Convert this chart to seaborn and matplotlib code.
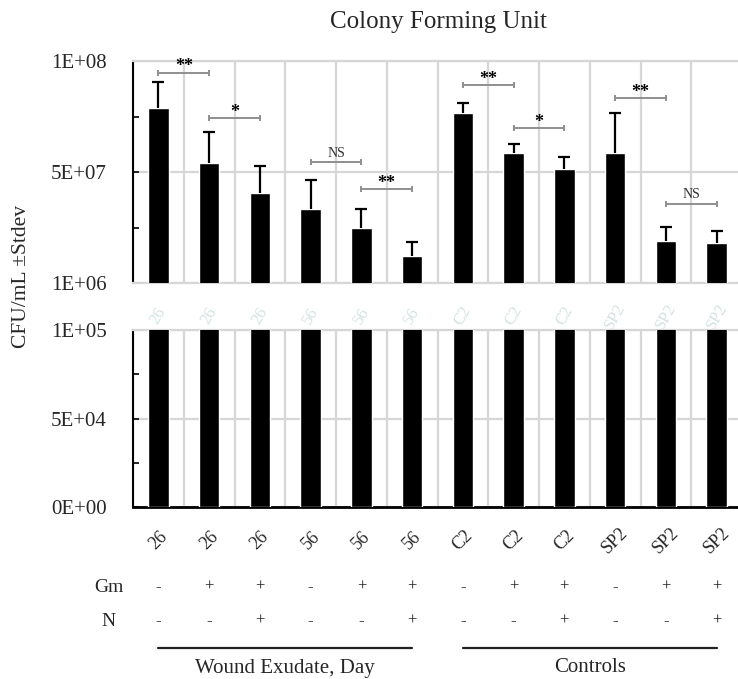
import numpy as np
import pandas as pd
import matplotlib
matplotlib.use("Agg")
import matplotlib.pyplot as plt
import seaborn as sns
from matplotlib.transforms import blended_transform_factory as btf

# ---- data ----
groups = ["26", "26", "26", "56", "56", "56", "C2", "C2", "C2", "SP2", "SP2", "SP2"]
gm_signs = ["-", "+", "+", "-", "+", "+", "-", "+", "+", "-", "+", "+"]
n_signs = ["-", "-", "+", "-", "-", "+", "-", "-", "+", "-", "-", "+"]
cfu_mean = [79.2e6, 54.4e6, 41.3e6, 34.1e6, 25.4e6, 13.2e6,
            76.7e6, 59.1e6, 51.8e6, 59.1e6, 19.7e6, 19.0e6]
cfu_sd = [11.6e6, 14.1e6, 11.9e6, 12.8e6, 8.5e6, 6.2e6,
          4.7e6, 3.8e6, 5.4e6, 17.6e6, 6.3e6, 5.2e6]
sig_pairs = [(0, 1), (1, 2), (3, 4), (4, 5), (6, 7), (7, 8), (9, 10), (10, 11)]
sig_labels = ["**", "*", "NS", "**", "**", "*", "**", "NS"]
sig_levels = [94.8e6, 74.7e6, 54.8e6, 42.8e6, 89.4e6, 70.0e6, 83.6e6, 36.2e6]
top_ticks = [1e6, 5.05e7, 1e8]
top_ticklabels = ["1E+06", "5E+07", "1E+08"]
bot_ticks = [0, 5e4, 1e5]
bot_ticklabels = ["0E+00", "5E+04", "1E+05"]
group_names = ["Wound Exudate, Day", "Controls"]
group_spans = [(0, 5), (6, 11)]

sns.set_style("white")
plt.rcParams["font.family"] = ["Liberation Serif", "DejaVu Serif"]

W, H = 738, 679
fig = plt.figure(figsize=(W / 100, H / 100), dpi=100)

def fx(px):
    return px / W

def fy(py):
    return 1 - py / H

ax_top = fig.add_axes([fx(133), fy(283), fx(742) - fx(133), fy(61) - fy(283)])
ax_bot = fig.add_axes([fx(133), fy(507), fx(742) - fx(133), fy(330) - fy(507)])

df = pd.DataFrame({"cond": [f"c{i}" for i in range(len(groups))],
                   "cfu": cfu_mean})
order = list(df["cond"])
grid_c = "#d6d6d6"

for ax in (ax_top, ax_bot):
    sns.barplot(data=df, x="cond", y="cfu", order=order, color="black",
                saturation=1, width=0.4, errorbar=None, ax=ax, zorder=3)
    ax.set_xlim(-0.5, len(groups) - 0.5)
    ax.set_xlabel("")
    ax.set_ylabel("")
    ax.set_xticks(np.arange(-0.5, len(groups)), minor=True)
    ax.grid(axis="x", which="minor", color=grid_c, lw=1.6, zorder=0)
    ax.grid(axis="y", which="major", color=grid_c, lw=1.6, zorder=0)
    ax.tick_params(axis="x", which="minor", direction="in", length=3,
                   width=1.2, color="black")
    ax.tick_params(axis="y", which="both", direction="in", length=4,
                   width=1.2, color="black", left=True, labelsize=15, pad=19)
    ax.spines["left"].set_color("black")
    ax.spines["left"].set_linewidth(1.5)
    ax.spines["right"].set_visible(False)
    ax.spines["top"].set_color(grid_c)
    ax.spines["top"].set_linewidth(1.6)
    ax.set_axisbelow(True)

# top panel
ax_top.set_ylim(1e6, 1e8)
ax_top.set_yticks(top_ticks)
ax_top.set_yticklabels(top_ticklabels)
ax_top.set_yticks([(top_ticks[0] + top_ticks[1]) / 2, (top_ticks[1] + top_ticks[2]) / 2], minor=True)
ax_top.set_xticks(range(len(groups)))
ax_top.tick_params(axis="x", which="major", length=0, labelbottom=False)
ax_top.spines["bottom"].set_color(grid_c)
ax_top.spines["bottom"].set_linewidth(1.6)
x = np.arange(len(groups))
eb = ax_top.errorbar(x, cfu_mean, yerr=[np.zeros(len(groups)), cfu_sd], fmt="none",
                     ecolor="black", elinewidth=1.6, capsize=4.5, capthick=1.6, zorder=4)
# hide the lower caps (they sit on the bar tops)
caps = eb[1]
if len(caps) >= 2:
    caps[0].set_visible(False)

for (a, b), lab, lev in zip(sig_pairs, sig_labels, sig_levels):
    ax_top.plot([a, b], [lev, lev], color="#8f8f8f", lw=1.4, marker="|",
                markersize=5, mew=1.4, zorder=5)
    if lab == "NS":
        ax_top.annotate(lab, xy=((a + b) / 2, lev), xytext=(0, 2),
                        textcoords="offset points", ha="center", va="bottom",
                        fontsize=10, color="#333333")
    else:
        ax_top.annotate(lab, xy=((a + b) / 2, lev), xytext=(0, -2),
                        textcoords="offset points", ha="center", va="bottom",
                        fontsize=13, color="black", fontweight="bold")

# bottom panel
ax_bot.set_ylim(0, 1e5)
ax_bot.set_yticks(bot_ticks)
ax_bot.set_yticklabels(bot_ticklabels)
ax_bot.set_yticks([2.5e4, 7.5e4], minor=True)
ax_bot.set_xticks(range(len(groups)))
ax_bot.set_xticklabels(groups)
ax_bot.tick_params(axis="x", which="major", length=0, labelsize=13, pad=24)
for t in ax_bot.get_xticklabels():
    t.set_rotation(45)
    t.set_rotation_mode("anchor")
    t.set_ha("center")
    t.set_va("center")
ax_bot.spines["bottom"].set_color("black")
ax_bot.spines["bottom"].set_linewidth(2)

# faint ghost labels above the lower bars
tr = btf(ax_bot.transData, fig.transFigure)
for i, g in enumerate(groups):
    ax_bot.text(i, fy(316), g, transform=tr, fontsize=12, color="#d5e2e2",
                rotation=60, ha="center", va="center")

# Gm / N rows
fig.text(fx(109), fy(587), "Gm", ha="center", va="center", fontsize=14)
fig.text(fx(108), fy(621), "N", ha="center", va="center", fontsize=14)
for i in range(len(groups)):
    ax_bot.text(i, fy(587), gm_signs[i], transform=tr, ha="center", va="center",
                fontsize=12, color="#222222")
    ax_bot.text(i, fy(621), n_signs[i], transform=tr, ha="center", va="center",
                fontsize=12, color="#222222")

# group lines and names
for (a, b), name in zip(group_spans, group_names):
    ax_bot.plot([a, b], [fy(648), fy(648)], transform=tr, color="#222222",
                lw=1.6, clip_on=False)
    ax_bot.text((a + b) / 2, fy(668), name, transform=tr, ha="center",
                va="center", fontsize=15)

fig.text(fx(22), fy(276), "CFU/mL \u00b1Stdev", rotation=90, ha="center",
         va="center", fontsize=15.5)
fig.text(fx(438), fy(22), "Colony Forming Unit", ha="center", va="center",
         fontsize=18)

fig.savefig("out.png", dpi=100)
